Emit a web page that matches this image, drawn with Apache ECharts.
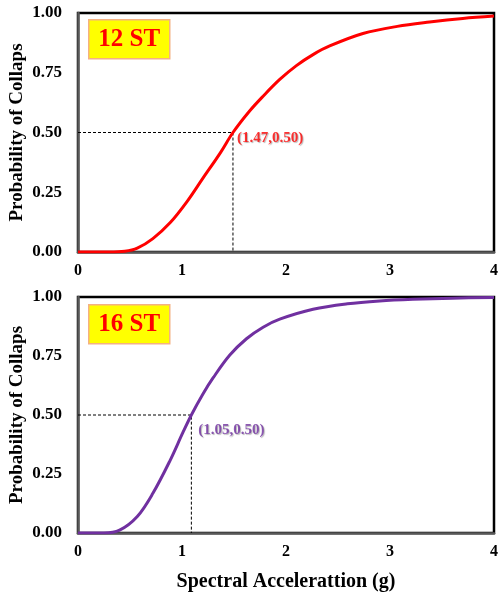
<!DOCTYPE html>
<html>
<head>
<meta charset="utf-8">
<script src="https://cdn.jsdelivr.net/npm/echarts@6/dist/echarts.min.js"></script>
<style>html,body{margin:0;padding:0;background:#fff;}#c{width:498px;height:596px;}</style>
</head>
<body>
<div id="c"></div>
<script>
// ---- data ----
const xTicks = [0, 1, 2, 3, 4];
const yTicks = [0, 0.25, 0.5, 0.75, 1];
const sa12 = [0, 0.30, 0.45, 0.57, 0.72, 0.885, 1.05, 1.20, 1.37, 1.49, 1.65, 1.78, 1.94, 2.10, 2.26, 2.42, 2.74, 3.07, 3.38, 3.70, 4.0];
const pc12 = [0, 0, 0.003, 0.016, 0.056, 0.122, 0.212, 0.308, 0.416, 0.50, 0.59, 0.652, 0.722, 0.780, 0.826, 0.862, 0.914, 0.944, 0.962, 0.977, 0.987];
const sa16 = [0, 0.25, 0.40, 0.57, 0.72, 0.885, 1.01, 1.09, 1.20, 1.30, 1.46, 1.62, 1.78, 1.94, 2.26, 2.59, 2.90, 3.22, 3.60, 4.0];
const pc16 = [0, 0, 0.012, 0.07, 0.168, 0.307, 0.427, 0.50, 0.588, 0.658, 0.754, 0.823, 0.872, 0.906, 0.948, 0.971, 0.983, 0.99, 0.995, 0.998];
const median12 = [1.49, 0.5];
const median16 = [1.09, 0.5];
const label12 = '(1.47,0.50)';
const label16 = '(1.05,0.50)';
const title12 = '12 ST';
const title16 = '16 ST';
const yName = 'Probability of Collaps';
const xName = 'Spectral Accelerattion (g)';

const serif = '"Liberation Serif", "Times New Roman", serif';
const zip = (a, b) => a.map((v, i) => [v, b[i]]);

function xAxisCfg(idx, showName) {
  return {
    gridIndex: idx, type: 'value', min: 0, max: 4, interval: 1,
    axisLine: { show: true, lineStyle: { color: '#595959', width: 2.5 } },
    axisTick: { show: false }, splitLine: { show: false },
    axisLabel: { color: '#000', fontFamily: serif, fontWeight: 'bold', fontSize: 16, margin: 11,
      formatter: v => xTicks.includes(v) ? String(v) : '' },
    name: showName ? xName : '', nameLocation: 'middle', nameGap: 39,
    nameTextStyle: { color: '#000', fontFamily: serif, fontWeight: 'bold', fontSize: 20 }
  };
}
function yAxisCfg(idx) {
  return {
    gridIndex: idx, type: 'value', min: 0, max: 1, interval: 0.25,
    axisLine: { show: true, lineStyle: { color: '#595959', width: 2.5 } },
    axisTick: { show: false }, splitLine: { show: false },
    axisLabel: { color: '#000', fontFamily: serif, fontWeight: 'bold', fontSize: 17, margin: 16,
      formatter: v => yTicks.includes(v) ? v.toFixed(2) : '' },
    name: yName, nameLocation: 'middle', nameGap: 51, nameRotate: 90, nameMoveOverlap: false,
    nameTextStyle: { color: '#000', fontFamily: serif, fontWeight: 'bold', fontSize: 19 }
  };
}
function curve(idx, sa, pc, color) {
  return { type: 'line', xAxisIndex: idx, yAxisIndex: idx, data: zip(sa, pc), smooth: 0.35,
    symbol: 'none', lineStyle: { color: color, width: 3 }, z: 3 };
}
function dash(idx, pt) {
  return { type: 'line', xAxisIndex: idx, yAxisIndex: idx, data: [[0, pt[1]], pt, [pt[0], 0]],
    symbol: 'none', lineStyle: { color: '#000', width: 1, type: [3, 2] }, z: 2, silent: true };
}
function note(idx, pt, text, color, off) {
  return { type: 'scatter', xAxisIndex: idx, yAxisIndex: idx, data: [pt], symbolSize: 0, z: 4,
    label: { show: true, position: 'right', distance: 2, offset: off, formatter: text, color: color,
      fontFamily: serif, fontWeight: 'bold', fontSize: 15,
      textShadowColor: 'rgba(0,0,0,0.35)', textShadowBlur: 1, textShadowOffsetX: 1, textShadowOffsetY: 1 } };
}
function box(x, y, text) {
  return { type: 'group', left: x, top: y, children: [
    { type: 'rect', shape: { x: 0, y: 0, width: 81, height: 39 },
      style: { fill: '#FFFF00', stroke: '#F4B183', lineWidth: 1.5 } },
    { type: 'text', x: 40.5, y: 20, style: { text: text, fill: '#FF0000', font: 'bold 25px ' + serif,
      textAlign: 'center', textVerticalAlign: 'middle',
      shadowColor: 'rgba(0,0,0,0.35)', shadowBlur: 1, shadowOffsetX: 1, shadowOffsetY: 1 } }
  ] };
}

const chart = echarts.init(document.getElementById('c'), null, { renderer: 'canvas' });
chart.setOption({
  animation: false,
  backgroundColor: '#fff',
  grid: [
    { left: 78, top: 13, width: 416, height: 239, show: true, borderColor: '#000', borderWidth: 2.5, backgroundColor: 'transparent', containLabel: false, outerBoundsMode: 'none' },
    { left: 78, top: 297, width: 416, height: 236, show: true, borderColor: '#000', borderWidth: 2.5, backgroundColor: 'transparent', containLabel: false, outerBoundsMode: 'none' }
  ],
  xAxis: [xAxisCfg(0, false), xAxisCfg(1, true)],
  yAxis: [yAxisCfg(0), yAxisCfg(1)],
  series: [
    dash(0, median12), curve(0, sa12, pc12, '#FF0000'), note(0, median12, label12, '#FF0000', [2, 6]),
    dash(1, median16), curve(1, sa16, pc16, '#7030A0'), note(1, median16, label16, '#7030A0', [5, 15])
  ],
  graphic: [box(88, 19, title12), box(88, 304, title16)]
});
</script>
</body>
</html>
